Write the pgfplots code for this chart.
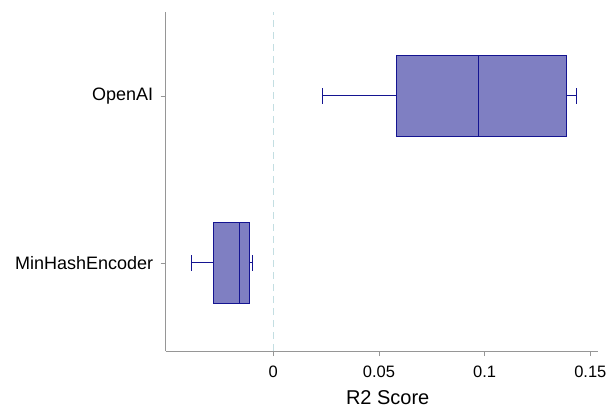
\documentclass[border=0pt]{standalone}
\usepackage{fontspec}
\setmainfont{Liberation Sans}
\usepackage{pgfplots}
\pgfplotsset{compat=1.18}
\usepgfplotslibrary{statistics}

\definecolor{boxfill}{RGB}{127,127,194}
\definecolor{boxedge}{RGB}{20,20,145}
\definecolor{spine}{RGB}{150,150,150}
\definecolor{zeroline}{RGB}{195,222,226}

\begin{document}
\begin{tikzpicture}
    \begin{axis}[
        scale only axis,
        width=432pt, height=339pt,
        xmin=-0.0509, xmax=0.1535,
        ymin=0.473, ymax=2.503,
        axis lines*=left,
        axis line style={spine, line width=1pt},
        xtick={0,0.05,0.1,0.15},
        scaled x ticks=false,
        /pgf/number format/fixed,
        /pgf/number format/assume math mode=true,
        ytick={1,2},
        yticklabels={MinHashEncoder, OpenAI},
        tick align=outside,
        major tick length=5pt,
        tick style={spine, line width=0.6pt},
        xticklabel style={font=\fontsize{16.5}{20}\selectfont, yshift=-6pt},
        yticklabel style={font=\fontsize{18}{21}\selectfont, xshift=-4pt},
        xlabel={R2 Score},
        xlabel style={font=\fontsize{20}{24}\selectfont,
            at={(axis description cs:0.5,0)}, anchor=base,
            yshift=-53pt, xshift=6pt},
        boxplot/draw direction=x,
        boxplot/box extend=0.49,
        boxplot/whisker extend=0.09,
        clip=false
    ]

    % zero reference line
    \addplot[zeroline, line width=0.8pt, dash pattern=on 7pt off 5pt]
        coordinates {(0,0.473) (0,2.503)};

    % MinHashEncoder
    \addplot[boxplot prepared={
            lower whisker=-0.0389, lower quartile=-0.0284,
            median=-0.0159,
            upper quartile=-0.0112, upper whisker=-0.0098,
            draw position=1},
        draw=boxedge, fill=boxfill, line width=1pt]
        coordinates {};

    % OpenAI
    \addplot[boxplot prepared={
            lower whisker=0.0232, lower quartile=0.0584,
            median=0.0973,
            upper quartile=0.1389, upper whisker=0.1435,
            draw position=2},
        draw=boxedge, fill=boxfill, line width=1pt]
        coordinates {};

    \end{axis}
    \pgfresetboundingbox
    \path (-165.7pt,-58pt) rectangle (446.3pt,351pt);
\end{tikzpicture}
\end{document}
